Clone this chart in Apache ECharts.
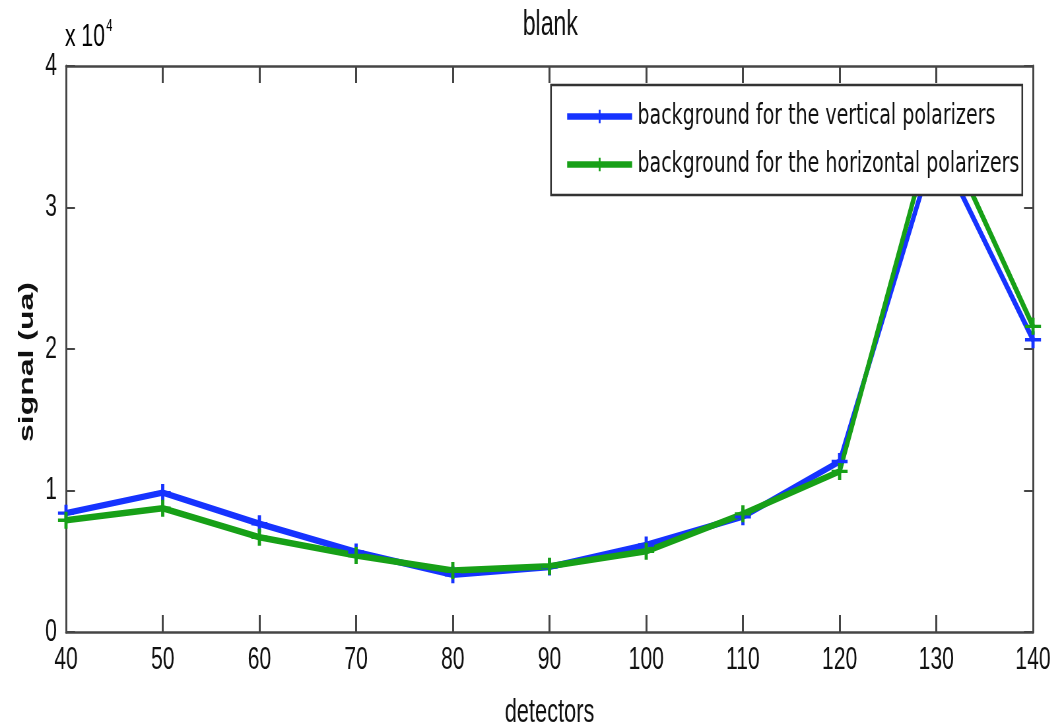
<!DOCTYPE html>
<html>
<head>
<meta charset="utf-8">
<script src="https://cdn.jsdelivr.net/npm/echarts@6/dist/echarts.min.js"></script>
<style>
html,body{margin:0;padding:0;background:#fff;overflow:hidden;width:1062px;height:728px;}
#wrap{width:1062px;height:728px;overflow:hidden;position:relative;}
#chart{position:absolute;left:0;top:0;height:728px;transform-origin:0 0;}
</style>
</head>
<body>
<div id="wrap"><div id="chart"></div></div>
<script>
// ---- data ----
const detectors = [40, 50, 60, 70, 80, 90, 100, 110, 120, 130, 140];
const verticalBg = [8400, 9850, 7650, 5650, 4050, 4600, 6150, 8150, 12050, 34600, 20650];
const horizontalBg = [7900, 8750, 6700, 5400, 4350, 4650, 5700, 8350, 11350, 36500, 21600];
const seriesNames = ['background for the vertical polarizers', 'background for the horizontal polarizers'];
const titleText = 'blank';
const xName = 'detectors';
const yName = 'signal (ua)';
const yTickLabels = ['0', '1', '2', '3', '4'];

// The reference figure is horizontally compressed; render wider and squeeze with CSS.
const W = 1609;
const S = 1062 / W;
const hx = v => v / S;   // screen horizontal px -> chart px

const el = document.getElementById('chart');
el.style.width = W + 'px';
el.style.transform = 'scaleX(' + S + ')';

const FONT = "'Liberation Sans', Arial, Helvetica, sans-serif";
const LFONT = "'DejaVu Sans', 'Liberation Sans', sans-serif";
const AX = '#454545';
const BLUE = '#1633ff';
const GREEN = '#17a017';
const plus = 'path://M-1.6,-8 L1.6,-8 L1.6,8 L-1.6,8 Z M-8,-1.6 L8,-1.6 L8,1.6 L-8,1.6 Z';
const symSize = [hx(16), 17];

const chart = echarts.init(el, null, {renderer: 'canvas', width: W, height: 728});

function pairs(ys) { return detectors.map((x, i) => [x, ys[i]]); }

const xCommon = {
  type: 'value', min: 40, max: 140, interval: 10,
  axisLine: {show: true, onZero: false, lineStyle: {color: AX, width: 2.5}},
  axisTick: {show: true, inside: true, length: 17, lineStyle: {color: AX, width: 3}},
  splitLine: {show: false}
};
const yCommon = {
  type: 'value', min: 0, max: 40000, interval: 10000,
  axisLine: {show: true, onZero: false, lineStyle: {color: AX, width: 3}},
  axisTick: {show: true, inside: true, length: hx(9), lineStyle: {color: AX, width: 2}},
  splitLine: {show: false}
};

chart.setOption({
  animation: false,
  backgroundColor: '#fff',
  title: {
    text: titleText, left: hx(547), top: 3, textAlign: 'center',
    textStyle: {fontFamily: FONT, fontSize: 35, fontWeight: 'normal', color: '#111'}
  },
  grid: {left: hx(66), right: hx(29), top: 66, bottom: 96, containLabel: false, outerBoundsMode: 'none'},
  legend: {
    orient: 'vertical', left: hx(551), top: 85,
    padding: [17, hx(3), 16, hx(14)],
    itemWidth: hx(65), itemHeight: 17, itemGap: 19,
    backgroundColor: '#fff', borderColor: '#333', borderWidth: 2.5,
    lineStyle: {width: 6.5},
    textStyle: {fontFamily: LFONT, fontSize: 28.8, lineHeight: 28, color: '#111', padding: [0, 0, 0, hx(2)]},
    data: seriesNames
  },
  xAxis: [
    Object.assign({}, xCommon, {
      position: 'bottom',
      name: xName, nameLocation: 'middle', nameGap: 64,
      nameTextStyle: {fontFamily: FONT, fontSize: 33, color: '#111'},
      axisLabel: {fontFamily: FONT, fontSize: 32, color: '#111', margin: 12}
    }),
    Object.assign({}, xCommon, {position: 'top', axisLabel: {show: false}})
  ],
  yAxis: [
    Object.assign({}, yCommon, {
      position: 'left',
      name: yName, nameLocation: 'middle', nameGap: hx(22), nameRotate: 90,
      nameTextStyle: {fontFamily: FONT, fontSize: 32, fontWeight: 'bold', color: '#111', padding: [0, 26, 0, 0]},
      axisLabel: {fontFamily: FONT, fontSize: 32, color: '#111', margin: hx(9),
        formatter: v => yTickLabels[Math.round(v / 10000)]}
    }),
    Object.assign({}, yCommon, {position: 'right', axisLabel: {show: false}})
  ],
  graphic: [{
    type: 'text', left: hx(65), top: 18,
    style: {
      text: '{a|x 10}{s|4}',
      rich: {
        a: {fontFamily: FONT, fontSize: 32, color: '#111', verticalAlign: 'bottom'},
        s: {fontFamily: FONT, fontSize: 17, color: '#111', verticalAlign: 'top', padding: [0, 0, 18, 2]}
      }
    }
  }],
  series: [
    {
      name: seriesNames[0], type: 'line', data: pairs(verticalBg),
      symbol: plus, symbolSize: symSize, symbolKeepAspect: false, showSymbol: true,
      lineStyle: {color: BLUE, width: 6.5},
      itemStyle: {color: BLUE}
    },
    {
      name: seriesNames[1], type: 'line', data: pairs(horizontalBg),
      symbol: plus, symbolSize: symSize, symbolKeepAspect: false, showSymbol: true,
      lineStyle: {color: GREEN, width: 6.5},
      itemStyle: {color: GREEN}
    }
  ]
});
</script>
</body>
</html>
